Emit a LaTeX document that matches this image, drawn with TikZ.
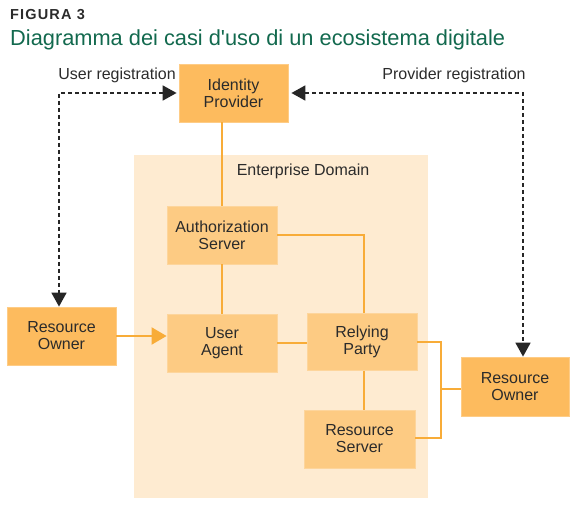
\documentclass[tikz,border=0pt]{standalone}
\usepackage{fontspec}
\setmainfont{Liberation Sans}
\newfontfamily\figfont[LetterSpace=8]{Liberation Sans}
\usetikzlibrary{arrows.meta,calc}
\definecolor{boxdark}{HTML}{FDBB5E}
\definecolor{boxlight}{HTML}{FDCB83}
\definecolor{domainfill}{HTML}{FEEBD1}
\definecolor{linecol}{HTML}{F8AC38}
\definecolor{titlegreen}{RGB}{18,105,78}
\definecolor{txt}{HTML}{2B2B2B}
\begin{document}
\begin{tikzpicture}[x=1pt,y=-1pt,
  every node/.style={text=txt, font=\fontsize{16}{17}\selectfont},
  darkbox/.style={rectangle, fill=boxdark, draw=boxdark!75!white, line width=0.8pt, align=center, inner sep=0pt},
  lightbox/.style={rectangle, fill=boxlight, draw=boxlight!80!white, line width=0.8pt, align=center, inner sep=0pt},
  conn/.style={draw=linecol, line width=2pt},
  dasharrow/.style={draw=black!85, line width=1.8pt, dash pattern=on 4pt off 3pt,
     {Triangle[width=15pt,length=14pt]}-{Triangle[width=15pt,length=14pt]}},
  lab/.style={inner sep=0pt}
]
\useasboundingbox (0,0) rectangle (575,505);
% titles
\node[lab, anchor=base west, font=\figfont\bfseries\fontsize{14.5}{16}\selectfont] (fig) at (10,19.5) {FIGURA 3};
\node[lab, anchor=base west, text=titlegreen, font=\fontsize{21.8}{24}\selectfont] (title) at (10,46) {Diagramma dei casi d\textquotesingle uso di un ecosistema digitale};
% domain
\node[rectangle, fill=domainfill, minimum width=294pt, minimum height=343pt, inner sep=0pt] (dom) at (281,326.5) {};
\node[lab] (domlab) at (303,171) {Enterprise Domain};
% boxes
\node[darkbox, minimum width=109pt, minimum height=58pt] (idp) at (233.5,93) {Identity\\Provider};
\node[lightbox, minimum width=110pt, minimum height=58pt] (as) at (222,235) {Authorization\\Server};
\node[lightbox, minimum width=110pt, minimum height=58pt] (ua) at (222,343) {User\\Agent};
\node[lightbox, minimum width=110pt, minimum height=57pt] (rp) at (362,342) {Relying\\Party};
\node[lightbox, minimum width=111pt, minimum height=58pt] (rs) at (359.5,439) {Resource\\Server};
\node[darkbox, minimum width=109pt, minimum height=58pt] (rol) at (61.5,336) {Resource\\Owner};
\node[darkbox, minimum width=108pt, minimum height=59pt] (ror) at (515,386.5) {Resource\\Owner};
% labels
\node[lab] (ureg) at (117,75) {User registration};
\node[lab] (preg) at (454,75) {Provider registration};
% connectors
\draw[conn] (idp.south -| as.north) -- (as.north);
\draw[conn] (as.south) -- (ua.north);
\draw[conn] (as.east) -| ($(rp.north)+(2,0)$);
\draw[conn] (ua.east) -- (ua.east -| rp.west);
\draw[conn] ($(rp.south)+(2,0)$) -- ($(rp.south |- rs.north)+(2,0)$);
\coordinate (jr) at (441,342);
\coordinate (jb) at (441,438);
\coordinate (jm) at (441,389);
\draw[conn] (rp.east |- jr) -- (jr) -- (jb) -- (rs.east |- jb);
\draw[conn] (jm) -- (ror.west |- jm);
\draw[conn, -{Triangle[width=17pt,length=15pt]}, draw=linecol, fill=linecol] (rol.east) -- (rol.east -| ua.west);
\draw[dasharrow] ($(idp.west)+(-2,0)$) -| ($(rol.north)+(-2.5,0)$);
\draw[dasharrow] ($(idp.east)+(3,0)$) -| ($(ror.north)+(8,0)$);
\end{tikzpicture}
\end{document}
